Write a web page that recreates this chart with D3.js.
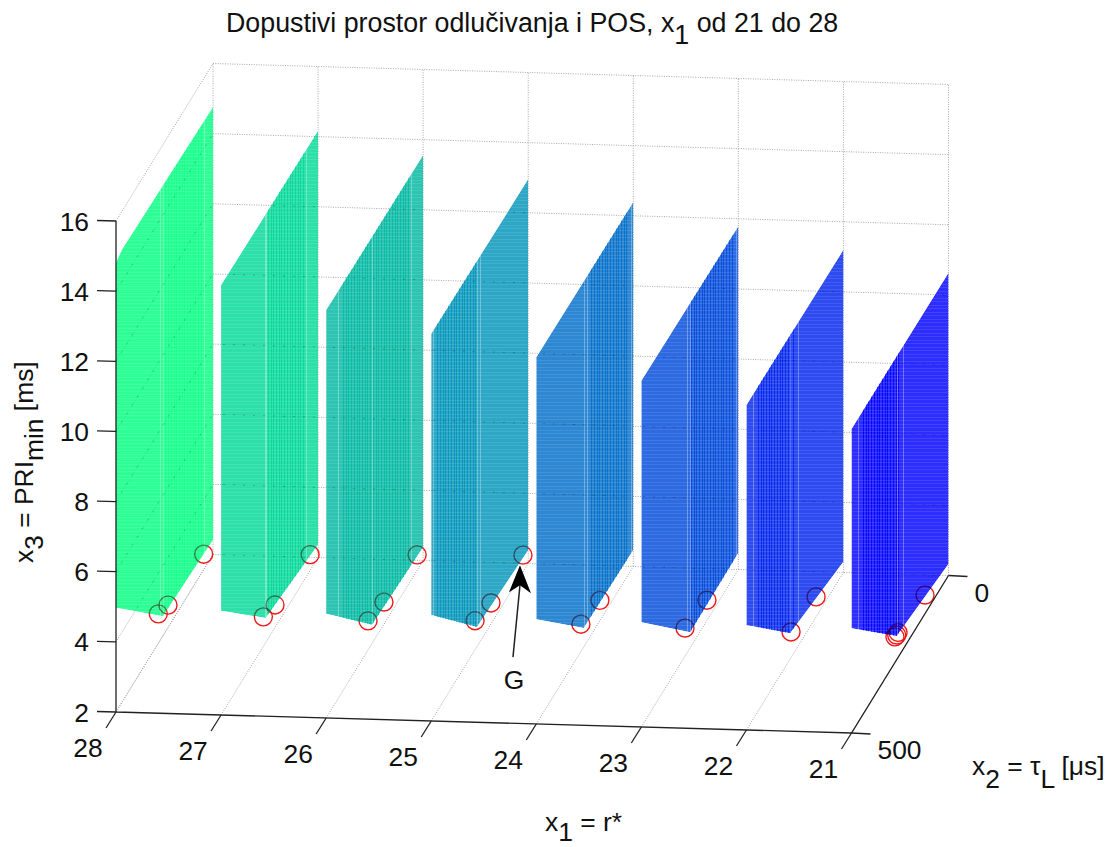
<!DOCTYPE html>
<html><head><meta charset="utf-8">
<script src="https://cdn.jsdelivr.net/npm/d3@7"></script>
<style>html,body{margin:0;padding:0;background:#fff}svg{display:block}text{font-family:"Liberation Sans",Arial,sans-serif;fill:#111}</style>
</head><body><div id="chart"></div>
<script>
const x1Ticks=[28,27,26,25,24,23,22,21];
const x2Ticks=[0,500];
const x3Ticks=[2,4,6,8,10,12,14,16];
const wallColors=["#00ff80","#00d896","#00b8a0","#0094ba","#006cc8","#0049db","#0024ed","#0000ff"];
const topAt500=[14.82,14.26,13.63,13.04,12.46,11.87,11.27,10.67];
const topAt0=[14.76,14.17,13.56,12.96,12.39,11.79,11.20,10.63];
const bottomAt500=[4.97,4.97,4.97,5.02,4.99,4.99,4.99,4.99];
const cornerX2=[258,270,263,264,255,248,275,267];
const cornerZ=[2.56,2.70,2.53,2.56,2.54,2.44,2.74,2.67];
const bottomAt0=[2.41,2.36,2.38,2.38,2.47,2.47,2.31,2.33];
const stripeFrom=[260,260,425,475,225,250,450,450];
const stripeTo=[60,75,75,265,25,25,250,250];
const paretoX1=[28,28,28,27,27,27,26,26,26,25,25,25,24,24,23,23,22,22,21,21,21,21];
const paretoX2=[282,232,48,282,222,41,284,202,31,274,192,27,270,172,275,162,270,141,267,276,260,121];
const paretoX3=[2.84,2.64,2.44,2.84,2.64,2.45,2.83,2.63,2.44,2.83,2.60,2.48,2.78,2.58,2.80,2.58,2.73,2.57,2.70,2.73,2.71,2.53];
const title="Dopustivi prostor odlučivanja i POS, x";

const W=1113,H=847;
const svg=d3.select("#chart").append("svg").attr("width",W).attr("height",H);
const x1X=d3.scaleLinear().domain([28,21]).range([116,851.5]);
const x1Y=d3.scaleLinear().domain([28,21]).range([712,733]);
const x2X=d3.scaleLinear().domain([500,0]).range([0,97]);
const x2Y=d3.scaleLinear().domain([500,0]).range([0,-157.5]);
const x3Y=d3.scaleLinear().domain([2,16]).range([0,-491]);
const P=(a,b,c)=>[x1X(a)+x2X(b),x1Y(a)+x2Y(b)+x3Y(c)];
const line=d3.line();

const grid=g=>{
  const seg=(p,q)=>g.append("path").attr("d",line([p,q])).attr("fill","none").attr("stroke","#a8a8a8").attr("stroke-width",1).attr("stroke-dasharray","1 1.4");
  x1Ticks.forEach(a=>{seg(P(a,500,2),P(a,0,2));seg(P(a,0,2),P(a,0,16));});
  x3Ticks.forEach(c=>{seg(P(28,500,c),P(28,0,c));seg(P(28,0,c),P(21,0,c));});
};
grid(svg.append("g"));

const markers=d3.range(paretoX1.length).map(i=>P(paretoX1[i],paretoX2[i],paretoX3[i]));
svg.append("g").selectAll("circle").data(markers).join("circle")
  .attr("cx",d=>d[0]).attr("cy",d=>d[1]).attr("r",9).attr("fill","none").attr("stroke","#f01818").attr("stroke-width",1.4);

const defs=svg.append("defs");
x1Ticks.forEach((a,i)=>{
  const poly=[];
  poly.push(P(a,500,topAt500[i]));
  if(i===0) poly.push(P(a,470,14.91),P(a,230,14.84));
  poly.push(P(a,0,topAt0[i]),P(a,0,bottomAt0[i]),P(a,cornerX2[i],cornerZ[i]),P(a,500,bottomAt500[i]));
  const id="w"+a;
  defs.append("clipPath").attr("id",id).append("path").attr("d",line(poly)+"Z");
  const g=svg.append("g").attr("clip-path",`url(#${id})`);
  const col=wallColors[i];
  g.append("path").attr("d",line(poly)+"Z").attr("fill",col).attr("fill-opacity",0.82);
  const top=d3.min(poly,d=>d[1]),bot=d3.max(poly,d=>d[1]);
  const x0=P(a,500,2)[0];
  d3.range(0,500,7).forEach((b,k)=>{
    if(k%2===0||b>stripeFrom[i]||b<stripeTo[i]) return;
    g.append("rect").attr("x",Math.round(P(a,b,2)[0])).attr("y",top).attr("width",1).attr("height",bot-top).attr("fill",col).attr("opacity",i===0?0.45:0.85);
  });
  [cornerX2[i],stripeFrom[i]+14,stripeTo[i]-14].forEach(b=>{
    g.append("rect").attr("x",Math.round(P(a,b,2)[0])).attr("y",top).attr("width",1).attr("height",bot-top).attr("fill","#fff").attr("opacity",0.3);
  });
  d3.range(Math.round(top),bot,3.5).forEach(y=>{
    g.append("rect").attr("x",x0).attr("y",Math.round(y)).attr("width",98).attr("height",1).attr("fill","#fff").attr("opacity",0.1);
  });
  const through=g.append("g").attr("opacity",0.22);
  const seg=(p,q)=>through.append("path").attr("d",line([p,q])).attr("fill","none").attr("stroke","#000").attr("stroke-dasharray","2 8");
  x3Ticks.forEach(c=>{seg(P(28,0,c),P(21,0,c));});
  x1Ticks.forEach(t=>seg(P(t,500,2),P(t,0,2)));
  x3Ticks.forEach(c=>{seg(P(28,500,c),P(28,0,c));});
  g.append("g").selectAll("circle").data(markers).join("circle")
    .attr("cx",d=>d[0]).attr("cy",d=>d[1]).attr("r",9).attr("fill","none").attr("stroke","#300").attr("stroke-width",1.3).attr("opacity",0.4);
});

const axis=svg.append("g").attr("stroke","#222").attr("stroke-width",1.3).attr("fill","none");
axis.append("path").attr("d",line([P(28,500,16),P(28,500,2),P(21,500,2),P(21,0,2)]));
x3Ticks.forEach(c=>{const p=P(28,500,c);axis.append("path").attr("d",line([p,[p[0]-19,p[1]-0.5]]));});
x1Ticks.forEach(a=>{const p=P(a,500,2);axis.append("path").attr("d",line([p,[p[0]-10,p[1]+16]]));});
x2Ticks.forEach(b=>{const p=P(21,b,2);axis.append("path").attr("d",line([p,[p[0]+19,p[1]+1]]));});

const FS=26.4;
const lab=svg.append("g").attr("font-size",FS);
x3Ticks.forEach(c=>{const p=P(28,500,c);lab.append("text").attr("x",p[0]-27).attr("y",p[1]+9.5).attr("text-anchor","end").text(c);});
x1Ticks.forEach(a=>{const p=P(a,500,2);lab.append("text").attr("x",p[0]-28).attr("y",p[1]+45).attr("text-anchor","middle").text(a);});
x2Ticks.forEach(b=>{const p=P(21,b,2);lab.append("text").attr("x",p[0]+26).attr("y",p[1]+26).text(b);});

const t=svg.append("text").attr("x",226).attr("y",32).attr("font-size",26.8);
t.append("tspan").text(title);
t.append("tspan").attr("dy",12).text("1");
t.append("tspan").attr("dy",-12).text(" od 21 do 28");

const xl=svg.append("text").attr("x",545).attr("y",831).attr("font-size",FS);
xl.append("tspan").text("x");
xl.append("tspan").attr("dy",10).text("1");
xl.append("tspan").attr("dy",-10).text(" = r*");

const x2l=svg.append("text").attr("x",972).attr("y",775).attr("font-size",FS);
x2l.append("tspan").text("x");
x2l.append("tspan").attr("dy",13).text("2");
x2l.append("tspan").attr("dy",-13).text(" = τ");
x2l.append("tspan").attr("dy",13).text("L");
x2l.append("tspan").attr("dy",-13).text(" [μs]");

const x3l=svg.append("text").attr("transform","translate(33,563) rotate(-90)").attr("font-size",FS);
x3l.append("tspan").text("x");
x3l.append("tspan").attr("dy",10).text("3");
x3l.append("tspan").attr("dy",-10).text(" = PRI");
x3l.append("tspan").attr("dy",10).text("min");
x3l.append("tspan").attr("dy",-10).text(" [ms]");

const gp=P(25,27,2.48);
const tip=[gp[0]-3,gp[1]+10];
svg.append("path").attr("d",line([[tip[0]-7,tip[1]+92],[tip[0],tip[1]+20]])).attr("stroke","#222").attr("stroke-width",1.5).attr("fill","none");
svg.append("path").attr("d",line([tip,[tip[0]+11,tip[1]+28],[tip[0],tip[1]+20],[tip[0]-11,tip[1]+27]])+"Z").attr("fill","#000");
svg.append("text").attr("x",514).attr("y",689).attr("text-anchor","middle").attr("font-size",FS).text("G");
</script></body></html>
